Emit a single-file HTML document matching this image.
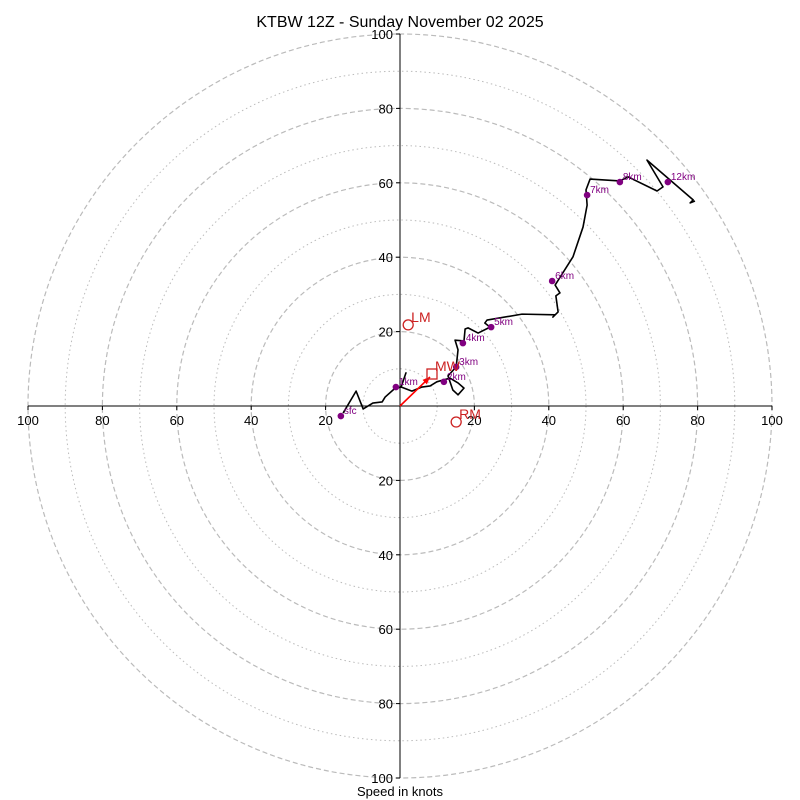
<!DOCTYPE html>
<html><head><meta charset="utf-8">
<style>
body{margin:0;background:#fff;}
svg{display:block;font-family:"Liberation Sans","DejaVu Sans",sans-serif;}
</style></head>
<body>
<svg id="c" width="800" height="800" viewBox="0 0 800 800">
<text x="400" y="27" text-anchor="middle" font-size="16">KTBW 12Z - Sunday November 02 2025</text>
<text x="400" y="796" text-anchor="middle" font-size="13">Speed in knots</text>
<g id="rings"></g><g id="axes"></g><g id="trace"></g><g id="marks"></g>
</svg>
<script>
const ringSpeeds=[10,20,30,40,50,60,70,80,90,100];
const tickLabels=[20,40,60,80,100];
const traceU=[-15.3,-11.8,-9.9,-7.3,-4.8,-4.0,-1.3,0.3,1.6,0.3,3.2,5.9,8.1,9.9,13.4,15.6,17.2,15.6,14.2,12.9,15.1,15.6,14.8,17.2,17.5,18.3,21.0,24.2,22.8,23.4,32.8,41.7,41.1,42.5,41.9,43.0,41.7,46.5,49.2,50.3,50.0,51.1,59.1,61.3,69.1,70.7,66.4,78.8,78.0,79.3];
const traceV=[-1.9,4.0,-0.8,0.8,1.1,2.4,4.8,5.1,8.9,5.1,4.0,5.1,5.4,6.5,7.5,6.2,4.8,3.0,4.3,8.1,10.5,15.1,17.7,17.5,20.7,21.0,19.6,21.2,22.3,23.1,24.7,24.5,23.9,25.3,29.6,30.4,32.5,40.1,48.1,54.0,58.1,61.0,60.5,61.6,57.8,58.9,66.1,55.4,54.6,55.1];
const levelNames=["sfc","1km","2km","3km","4km","5km","6km","7km","8km","12km"];
const levelU=[-15.9,-1.1,11.8,15.1,16.9,24.5,40.9,50.3,59.1,72.0];
const levelV=[-2.7,5.1,6.5,10.5,16.9,21.2,33.6,56.7,60.2,60.2];
const motionNames=["LM","RM","MW"];
const motionU=[2.2,15.1,8.6];
const motionV=[21.8,-4.3,8.6];

const CX=400,CY=406,S=3.72;
const sx=u=>CX+u*S, sy=v=>CY-v*S;
const NS="http://www.w3.org/2000/svg";
function mk(tag,parent,attrs){const e=document.createElementNS(NS,tag);for(const k in attrs)e.setAttribute(k,attrs[k]);parent.appendChild(e);return e;}
const rings=document.getElementById('rings'),axes=document.getElementById('axes'),trace=document.getElementById('trace'),marks=document.getElementById('marks');
ringSpeeds.forEach(r=>{
  const c=mk('circle',rings,{cx:CX,cy:CY,r:r*S,fill:'none',stroke:'#bbb','stroke-width':r%20===0?1.2:1,'stroke-dasharray':r%20===0?'5,3':'1.5,3'});
  
  
});
let l=mk('line',axes,{x1:sx(-100),y1:CY,x2:sx(100),y2:CY,stroke:'#000','stroke-width':1});


l=mk('line',axes,{x1:CX,y1:sy(100),x2:CX,y2:sy(-100),stroke:'#000','stroke-width':1});


tickLabels.forEach(t=>{
  [-1,1].forEach(s=>{
    let tk=mk('line',axes,{x1:sx(s*t),y1:CY,x2:sx(s*t),y2:CY+4,stroke:'#000'});
    
    
    let tx=mk('text',axes,{x:sx(s*t),y:CY+19,'text-anchor':'middle','font-size':13});
    tx.textContent=t;
    
    
    tk=mk('line',axes,{x1:CX-4,y1:sy(s*t),x2:CX,y2:sy(s*t),stroke:'#000'});
    
    
    tx=mk('text',axes,{x:CX-7,y:sy(s*t)+5,'text-anchor':'end','font-size':13});
    tx.textContent=t;
    
    
  });
});
const pts=traceU.map((u,i)=>sx(u)+','+sy(traceV[i])).join(' ');
const pl=mk('polyline',trace,{points:pts,fill:'none',stroke:'#000','stroke-width':1.6,'stroke-linejoin':'round'});


levelNames.forEach((n,i)=>{
  const d=mk('circle',marks,{cx:sx(levelU[i]),cy:sy(levelV[i]),r:3.3,fill:'#800080'});
  
  
  const t=mk('text',marks,{x:sx(levelU[i])+3,y:sy(levelV[i])-2,'font-size':10,fill:'#800080'});
  t.textContent=n;
  
  
});
// mean wind arrow
const mwx=sx(motionU[2]),mwy=sy(motionV[2]);
const ar=mk('line',marks,{x1:CX,y1:CY,x2:mwx-2,y2:mwy+3,stroke:'red','stroke-width':1.6});


const ang=Math.atan2(mwy+3-CY,mwx-2-CX);
const hx=mwx-2,hy=mwy+3;
const hd=mk('polygon',marks,{points:`${hx},${hy} ${hx-8*Math.cos(ang-0.4)},${hy-8*Math.sin(ang-0.4)} ${hx-8*Math.cos(ang+0.4)},${hy-8*Math.sin(ang+0.4)}`,fill:'red'});


motionNames.forEach((n,i)=>{
  const x=sx(motionU[i]),y=sy(motionV[i]);
  let m;
  if(n==='MW') m=mk('rect',marks,{x:x-5,y:y-5,width:10,height:10,fill:'none',stroke:'#c22','stroke-width':1.3});
  else m=mk('circle',marks,{cx:x,cy:y,r:5,fill:'none',stroke:'#c22','stroke-width':1.3});
  
  
  const t=mk('text',marks,{x:x+3,y:y-3,'font-size':14,fill:'#c22'});
  t.textContent=n;
  
  
});
</script>
</body></html>
